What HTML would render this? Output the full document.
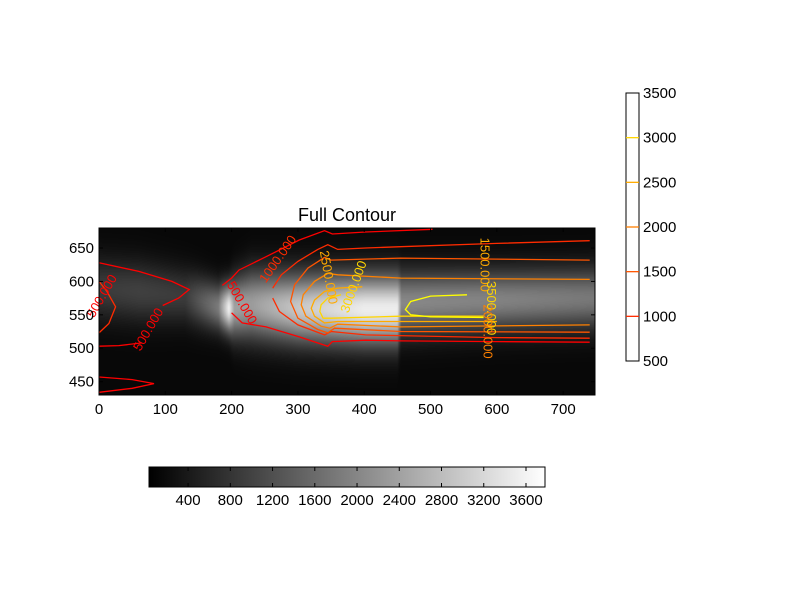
<!DOCTYPE html>
<html><head><meta charset="utf-8"><style>
body{margin:0;background:#fff;font-family:"Liberation Sans",sans-serif}
#wrap{position:relative;width:800px;height:600px}
canvas{position:absolute;left:99px;top:228px}
svg{position:absolute;left:0;top:0}
text{font-family:"Liberation Sans",sans-serif}
</style></head><body>
<div id="wrap">
<canvas id="bg" width="496" height="167"></canvas>
<svg id="s" width="800" height="600"></svg>
</div>
<script>
// axis extents
const xTicks=[0,100,200,300,400,500,600,700];
const yTicks=[450,500,550,600,650];
const levels=[500,1000,1500,2000,2500,3000,3500];
const cbTicks=[500,1000,1500,2000,2500,3000,3500];
const grayTicks=[400,800,1200,1600,2000,2400,2800,3200,3600];
// background column profile
const bgX=[0,60,130,180,196,204,230,300,400,450,456,600,740];
const bgAmp=[0.2,0.22,0.2,0.45,0.92,0.6,0.58,0.75,0.9,0.9,0.5,0.48,0.44];
const bgCenter=[590,585,578,562,560,560,565,560,558,558,568,572,575];
const bgWidth=[50,50,45,38,38,48,55,55,55,55,50,48,48];
// contours [level, points]
const contours=[
 [500,[[0,628],[60,615],[110,600],[136,588],[120,575],[96,564]]],
 [500,[[65,508],[30,504],[0,503]]],
 [1000,[[0,600],[12,585],[25,562],[15,537],[0,523]]],
 [500,[[0,457],[50,453],[83,447],[50,440],[0,434]]],
 [500,[[186,594],[200,605],[211,617],[252,637],[302,662],[340,676],[352,671],[402,674],[503,678]]],
 [500,[[200,553],[216,538],[252,532],[302,517],[345,503],[352,510],[402,512],[455,511],[600,510],[740,509]]],
 [1000,[[262,590],[275,610],[300,630],[330,648],[345,655],[360,648],[402,650],[455,652],[600,657],[740,661]]],
 [1000,[[262,575],[272,555],[300,535],[340,520],[350,525],[402,520],[600,516],[740,515]]],
 [1500,[[740,632],[455,635],[350,632],[340,636],[315,620],[295,595],[289,570],[300,545],[330,528],[345,523],[355,530],[455,525],[740,524]]],
 [2000,[[740,603],[455,605],[360,610],[345,612],[325,600],[308,580],[305,565],[312,548],[335,533],[348,530],[360,536],[455,532],[740,535]]],
 [2500,[[397,592],[360,590],[340,585],[325,572],[320,560],[325,548],[340,538],[360,540],[455,540],[600,540]]],
 [3000,[[365,580],[345,575],[335,565],[333,555],[338,545],[350,545],[455,548],[580,548]]],
 [3500,[[555,580],[500,578],[470,570],[462,558],[470,550],[500,547],[580,546]]]
];
const labels=[[500,10,575,-60,"500.000"],[500,80,525,-60,"500.000"],[500,210,565,60,"500.000"],[1000,275,630,-55,"1000.000"],[2500,340,605,80,"2500.000"],[3000,390,590,-70,"3000.000"],[2500,575,625,90,"1500.000"],[3000,585,560,90,"3500.000"],[2000,580,525,90,"2000.000"]];

const X0=99,X1=595,Y0=395,Y1=228,XMIN=0,XMAX=748,YMIN=430,YMAX=680;
const sx=v=>X0+(v-XMIN)/(XMAX-XMIN)*(X1-X0);
const sy=v=>Y0-(v-YMIN)/(YMAX-YMIN)*(Y0-Y1);
const NS="http://www.w3.org/2000/svg",svg=document.getElementById('s');
function mk(t,a,p){const e=document.createElementNS(NS,t);for(const k in a)e.setAttribute(k,a[k]);(p||svg).appendChild(e);return e;}
function lcol(l){const t=(l-500)/3000;return `rgb(255,${Math.round(255*t)},0)`;}
function interp(arr,x){for(let i=0;i<bgX.length-1;i++){if(x<=bgX[i+1]){const t=(x-bgX[i])/(bgX[i+1]-bgX[i]);return arr[i]+(arr[i+1]-arr[i])*t;}}return arr[arr.length-1];}
// heatmap
const cv=document.getElementById('bg'),ctx=cv.getContext('2d'),img=ctx.createImageData(496,167);
for(let px=0;px<496;px++){const xd=XMIN+(px+0.5)/496*(XMAX-XMIN);const a=interp(bgAmp,xd),c=interp(bgCenter,xd),w=interp(bgWidth,xd);
 for(let py=0;py<167;py++){const yd=YMAX-(py+0.5)/167*(YMAX-YMIN);const g=Math.exp(-Math.pow((yd-c)/w,2)*1.2);const v=Math.min(1,0.03+a*g)*255;const i=(py*496+px)*4;img.data[i]=img.data[i+1]=img.data[i+2]=v;img.data[i+3]=255;}}
ctx.putImageData(img,0,0);
// contours
const cg=mk('g',{});
contours.forEach(([l,pts])=>{const p=mk('path',{d:pts.map((q,i)=>(i?'L':'M')+sx(q[0]).toFixed(1)+','+sy(q[1]).toFixed(1)).join(''),fill:'none',stroke:lcol(l),'stroke-width':1.3},cg);
 });
labels.forEach(([l,x,y,r,t])=>{const e=mk('text',{x:sx(x),y:sy(y),fill:lcol(l),'font-size':13,'text-anchor':'middle',transform:`rotate(${r} ${sx(x)} ${sy(y)})`},cg);e.textContent=t;
 });
// frame and ticks
const fr=mk('rect',{x:X0,y:Y1,width:X1-X0,height:Y0-Y1,fill:'none',stroke:'#000'});
xTicks.forEach(v=>{mk('line',{x1:sx(v),x2:sx(v),y1:Y0,y2:Y0-4,stroke:'#000'});mk('line',{x1:sx(v),x2:sx(v),y1:Y1,y2:Y1+4,stroke:'#000'});
 const t=mk('text',{x:sx(v),y:414,'font-size':15,'text-anchor':'middle'});t.textContent=v;});
yTicks.forEach(v=>{mk('line',{x1:X0,x2:X0+4,y1:sy(v),y2:sy(v),stroke:'#000'});mk('line',{x1:X1,x2:X1-4,y1:sy(v),y2:sy(v),stroke:'#000'});
 const t=mk('text',{x:94,y:sy(v)+5,'font-size':15,'text-anchor':'end'});t.textContent=v;});
const ti=mk('text',{x:347,y:221,'font-size':18,'text-anchor':'middle'});ti.textContent='Full Contour';
// right colorbar (contour levels)
const cbY=v=>361-(v-500)/3000*268;
const cb=mk('rect',{x:626,y:93,width:13,height:268,fill:'#fff',stroke:'#000'});
levels.slice(1,-1).forEach(l=>{mk('line',{x1:626,x2:639,y1:cbY(l),y2:cbY(l),stroke:lcol(l),'stroke-width':1.3});});
cbTicks.forEach(v=>{const t=mk('text',{x:643,y:cbY(v)+5,'font-size':15});t.textContent=v;});
// bottom gray colorbar
const GMIN=30,GMAX=3780,gx=v=>149+(v-GMIN)/(GMAX-GMIN)*396;
const defs=mk('defs',{});const lg=mk('linearGradient',{id:'gg'},defs);mk('stop',{offset:0,'stop-color':'#000'},lg);mk('stop',{offset:1,'stop-color':'#fff'},lg);
const gb=mk('rect',{x:149,y:467,width:396,height:20,fill:'url(#gg)',stroke:'#000'});
grayTicks.forEach(v=>{mk('line',{x1:gx(v),x2:gx(v),y1:487,y2:483,stroke:'#000'});mk('line',{x1:gx(v),x2:gx(v),y1:467,y2:471,stroke:'#000'});
 const t=mk('text',{x:gx(v),y:505,'font-size':15,'text-anchor':'middle'});t.textContent=v;});
</script>
</body></html>
